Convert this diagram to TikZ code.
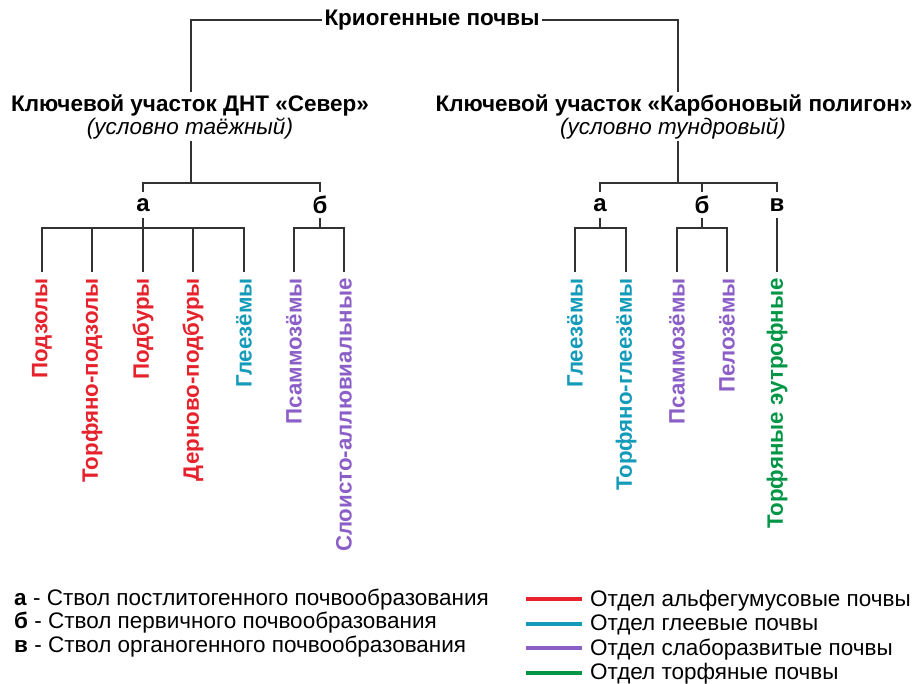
\documentclass[tikz,border=0pt]{standalone}
\usepackage{fontspec}
\setmainfont{Liberation Sans}
\definecolor{cred}{RGB}{230,35,45}
\definecolor{cteal}{RGB}{20,155,185}
\definecolor{cpurp}{RGB}{140,95,200}
\definecolor{cgreen}{RGB}{0,150,70}
\definecolor{cline}{RGB}{50,50,50}
\tikzset{
  conn/.style={draw=cline, line width=2.8pt},
  titlebox/.style={font=\bfseries\fontsize{22.5}{26}\selectfont, inner sep=2pt},
  headbox/.style={font=\bfseries\fontsize{22.5}{26}\selectfont, inner sep=2pt},
  subbox/.style={font=\itshape\fontsize{22.5}{26}\selectfont, inner sep=1pt},
  brbox/.style={font=\bfseries\fontsize{24}{28}\selectfont, inner sep=0pt, minimum height=26pt},
  leaf/.style={rotate=90, anchor=east, inner sep=0pt, font=\bfseries\fontsize{22.3}{26}\selectfont},
  legtext/.style={anchor=base west, inner sep=0pt, font=\fontsize{22.5}{26}\selectfont},
  legline/.style={line width=4pt},
}
\begin{document}
\begin{tikzpicture}[x=1pt,y=-1pt]
\useasboundingbox[fill=white] (0,0) rectangle (913,684);
% top
\node[titlebox] (root) at (432,20) {Криогенные почвы};
\node[headbox] (L) at (190,105) {Ключевой участок ДНТ «Север»};
\node[subbox] (Ls) at (190,129) {(условно таёжный)};
\node[headbox] (R) at (674,105) {Ключевой участок «Карбоновый полигон»};
\node[subbox] (Rs) at (673,129) {(условно тундровый)};
\coordinate (Lj) at (191,183);
\coordinate (Rj) at (678,183);
\draw[conn] (root.west) -| (Lj |- L.north);
\draw[conn] (root.east) -| (Rj |- R.north);
\draw[conn] (Lj |- Ls.south) -- (Lj);
\draw[conn] (Rj |- Rs.south) -- (Rj);
% branch labels
\node[brbox] (La) at (143,205) {а};
\node[brbox] (Lb) at (320,205) {б};
\node[brbox] (Ra) at (600,205) {а};
\node[brbox] (Rb) at (702,205) {б};
\node[brbox] (Rc) at (777,205) {в};
\draw[conn] (La.north) |- (Lj) -| (Lb.north);
\draw[conn] (Ra.north) |- (Rj) -| (Rc.north);
\draw[conn] (Rb.north) -- (Rb.north |- Rj);
% leaves left
\node[leaf, text=cred] (P1) at (42,278) {Подзолы};
\node[leaf, text=cred] (P2) at (92,278) {Торфяно-подзолы};
\node[leaf, text=cred] (P3) at (143,278) {Подбуры};
\node[leaf, text=cred] (P4) at (193,278) {Дерново-подбуры};
\node[leaf, text=cteal] (P5) at (244,278) {Глеезёмы};
\node[leaf, text=cpurp] (P6) at (294,278) {Псаммозёмы};
\node[leaf, text=cpurp] (P7) at (344,278) {Слоисто-аллювиальные};
% leaves right
\node[leaf, text=cteal] (Q1) at (575,278) {Глеезёмы};
\node[leaf, text=cteal] (Q2) at (626,278) {Торфяно-глеезёмы};
\node[leaf, text=cpurp] (Q3) at (677,278) {Псаммозёмы};
\node[leaf, text=cpurp] (Q4) at (727,278) {Пелозёмы};
\node[leaf, text=cgreen] (Q5) at (777,278) {Торфяные эутрофные};
% lower connectors
\draw[conn] ([yshift=6pt]P1.east) -- ++(0,-44) -| ([yshift=6pt]P5.east);
\draw[conn] ([yshift=6pt]P2.east) -- ++(0,-44);
\draw[conn] ([yshift=6pt]P3.east) -- (La.south);
\draw[conn] ([yshift=6pt]P4.east) -- ++(0,-44);
\draw[conn] ([yshift=6pt]P6.east) -- ++(0,-44) -| ([yshift=6pt]P7.east);
\draw[conn] (Lb.south) -- ++(0,10);
\draw[conn] ([yshift=6pt]Q1.east) -- ++(0,-44) -| ([yshift=6pt]Q2.east);
\draw[conn] (Ra.south) -- ++(0,10);
\draw[conn] ([yshift=6pt]Q3.east) -- ++(0,-44) -| ([yshift=6pt]Q4.east);
\draw[conn] (Rb.south) -- ++(0,10);
\draw[conn] ([yshift=6pt]Q5.east) -- (Rc.south);
% legend
\node[legtext] (A1) at (14,605) {\textbf{а} - Ствол постлитогенного почвообразования};
\node[legtext] (A2) at (14,628.5) {\textbf{б} - Ствол первичного почвообразования};
\node[legtext] (A3) at (14,652) {\textbf{в} - Ствол органогенного почвообразования};
\node[legtext] (B1) at (590,606) {Отдел альфегумусовые почвы};
\node[legtext] (B2) at (590,630.5) {Отдел глеевые почвы};
\node[legtext] (B3) at (590,655) {Отдел слаборазвитые почвы};
\node[legtext] (B4) at (590,679.5) {Отдел торфяные почвы};
\draw[legline, cred] ([shift={(-64pt,7pt)}]B1.base west) -- ([shift={(-8pt,7pt)}]B1.base west);
\draw[legline, cteal] ([shift={(-64pt,7pt)}]B2.base west) -- ([shift={(-8pt,7pt)}]B2.base west);
\draw[legline, cpurp] ([shift={(-64pt,7pt)}]B3.base west) -- ([shift={(-8pt,7pt)}]B3.base west);
\draw[legline, cgreen] ([shift={(-64pt,7pt)}]B4.base west) -- ([shift={(-8pt,7pt)}]B4.base west);
\end{tikzpicture}
\end{document}
